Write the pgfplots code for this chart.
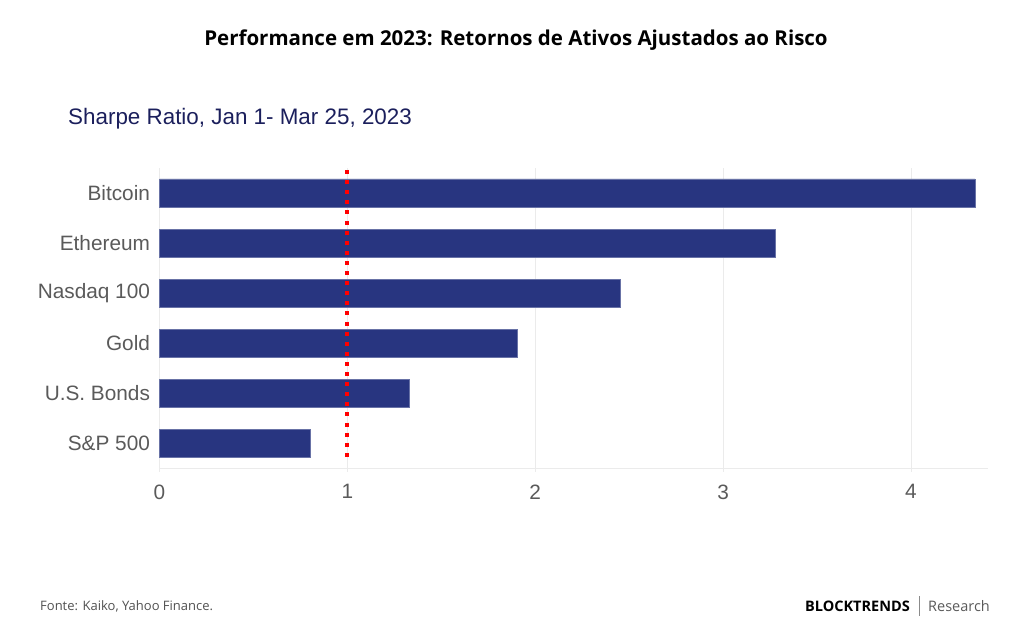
\documentclass[border=0pt]{standalone}
\usepackage{pgfplots}
\pgfplotsset{compat=1.18}
\usepackage{fontspec}
\setmainfont{Liberation Sans}
\newfontfamily\titlefont{Open Sans}
\definecolor{barblue}{RGB}{40,53,128}
\definecolor{navy}{RGB}{27,31,92}
\definecolor{tickgray}{RGB}{90,90,90}
\definecolor{gridgray}{RGB}{235,235,235}
\begin{document}
\begin{tikzpicture}[x=1pt,y=1pt]
\path[use as bounding box] (0,0) rectangle (1024,-644);
\node[anchor=center,font=\titlefont\bfseries\fontsize{20.5}{24}\selectfont] at (516,-40) {Performance em 2023: Retornos de Ativos Ajustados ao Risco};
\node[anchor=base west,inner sep=0pt,text=navy,font=\fontsize{22.4}{26}\selectfont] at (68,-125) {Sharpe Ratio, Jan 1- Mar 25, 2023};
\begin{axis}[
  at={(159.5pt,-468pt)}, anchor=south west,
  scale only axis, width=828.5pt, height=300pt,
  xmin=0, xmax=4.41, ymin=-0.5, ymax=5.5,
  ytick={0,1,2,3,4,5},
  yticklabels={S\&P 500,U.S. Bonds,Gold,Nasdaq 100,Ethereum,Bitcoin},
  xtick={0,1,2,3,4},
  axis x line*=bottom, axis y line*=left,
  x axis line style={gridgray, line width=0.8pt, -},
  y axis line style={draw=none},
  xmajorgrids, major grid style={gridgray, line width=0.8pt},
  major tick length=4pt, tick align=outside,
  x tick style={gridgray, line width=0.8pt},
  y tick style={draw=none},
  ticklabel style={font=\fontsize{20.8}{24}\selectfont, text=tickgray},
  yticklabel style={xshift=-2pt},
  xticklabel style={yshift=-9pt},
  /pgf/number format/assume math mode=true,
  clip=false,
]
\addplot[xbar, bar width=28pt, fill=barblue, draw=barblue!70!white, line width=0.6pt] coordinates {
 (0.805,0) (1.33,1) (1.906,2) (2.455,3) (3.28,4) (4.34,5)
};
\addplot[red, line width=4pt, dash pattern=on 4pt off 6.1pt, sharp plot, no markers] coordinates {(1,5.46) (1,-0.35)};
\end{axis}
\node[anchor=west,inner sep=0pt,text=tickgray!90!black,font=\titlefont\fontsize{13}{15}\selectfont] at (40,-606) {Fonte: Kaiko, Yahoo Finance.};
\node[anchor=east,inner sep=0pt,font=\titlefont\fontsize{14.5}{17}\selectfont] (r) at (990,-606) {\textcolor{tickgray}{Research}};
\draw[tickgray!70, line width=0.8pt] ([xshift=-9pt]r.west |- 0,-596) -- ([xshift=-9pt]r.west |- 0,-616);
\node[anchor=east,inner sep=0pt,font=\titlefont\bfseries\fontsize{14.5}{17}\selectfont] at ([xshift=-18pt]r.west) {BLOCKTRENDS};
\end{tikzpicture}
\end{document}
